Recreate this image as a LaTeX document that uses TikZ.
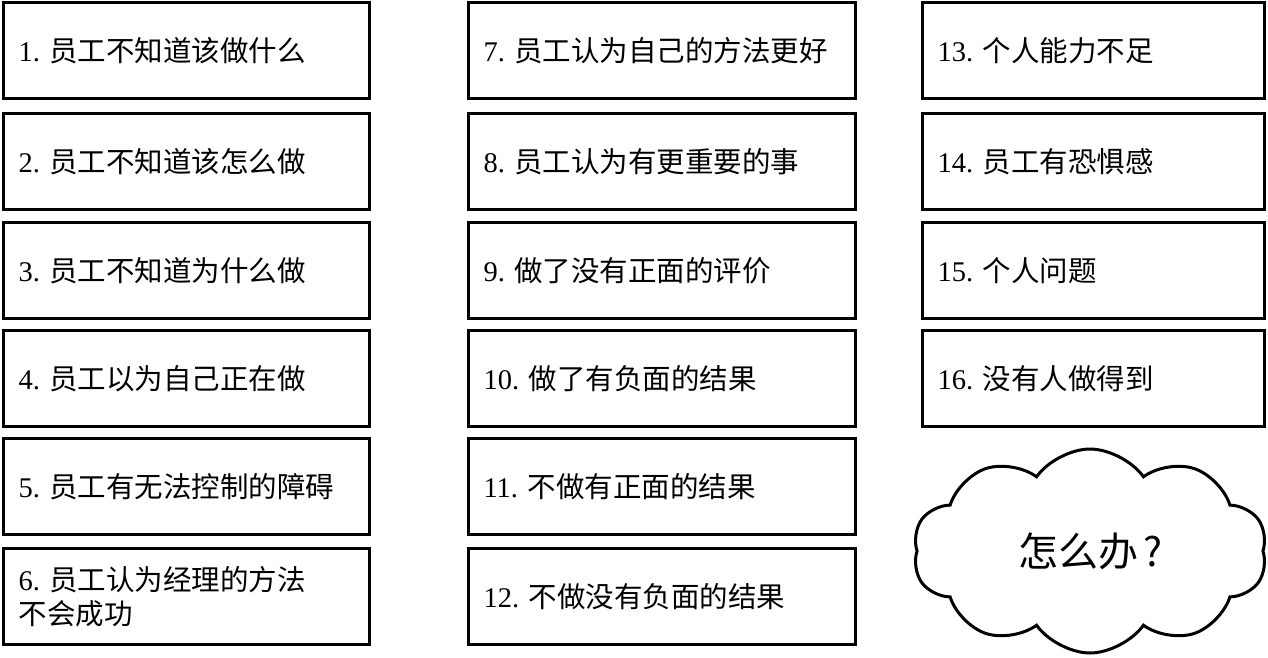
\documentclass[tikz,border=0pt]{standalone}
\usepackage{fontspec}
\setmainfont{Liberation Serif}
\newfontfamily\cjk{Noto Sans CJK SC}
\usetikzlibrary{shapes.symbols}
\frenchspacing
\begin{document}
\begin{tikzpicture}[x=1pt,y=-1pt,line width=3pt,
		item/.style={draw, rectangle, anchor=north west, outer sep=0pt, inner xsep=15pt,
			minimum height=96pt, align=left, font=\fontsize{28.5}{34}\selectfont},
		colA/.style={item, minimum width=366pt, text width=336pt},
		colB/.style={item, minimum width=387pt, text width=357pt},
		colC/.style={item, minimum width=342pt, text width=312pt}]
			\useasboundingbox (0, 0) rectangle (1268, 658);
			\node[colA] (q1) at (3.5, 2.5) {1. \cjk 员工不知道该做什么};
			\node[colA] (q2) at (3.5, 113.5) {2. \cjk 员工不知道该怎么做};
			\node[colA] (q3) at (3.5, 222.5) {3. \cjk 员工不知道为什么做};
			\node[colA] (q4) at (3.5, 330.5) {4. \cjk 员工以为自己正在做};
			\node[colA] (q5) at (3.5, 438.5) {5. \cjk 员工有无法控制的障碍};
			\node[colA] (q6) at (3.5, 548.5) {6. \cjk 员工认为经理的方法\\不会成功};
			\node[colB] (q7) at (468.5, 2.5) {7. \cjk 员工认为自己的方法更好};
			\node[colB] (q8) at (468.5, 113.5) {8. \cjk 员工认为有更重要的事};
			\node[colB] (q9) at (468.5, 222.5) {9. \cjk 做了没有正面的评价};
			\node[colB] (q10) at (468.5, 330.5) {10. \cjk 做了有负面的结果};
			\node[colB] (q11) at (468.5, 438.5) {11. \cjk 不做有正面的结果};
			\node[colB] (q12) at (468.5, 548.5) {12. \cjk 不做没有负面的结果};
			\node[colC] (q13) at (922.5, 2.5) {13. \cjk 个人能力不足};
			\node[colC] (q14) at (922.5, 113.5) {14. \cjk 员工有恐惧感};
			\node[colC] (q15) at (922.5, 222.5) {15. \cjk 个人问题};
			\node[colC] (q16) at (922.5, 330.5) {16. \cjk 没有人做得到};
			\node[draw, cloud, cloud puffs=10, cloud puff arc=110, aspect=1.8, inner sep=0pt,
				minimum width=354pt, minimum height=204pt, font=\fontsize{40}{48}\selectfont]
				(what) at (1090, 551) {\cjk 怎么办\hspace{5pt}?};
			\end{tikzpicture}
\end{document}
